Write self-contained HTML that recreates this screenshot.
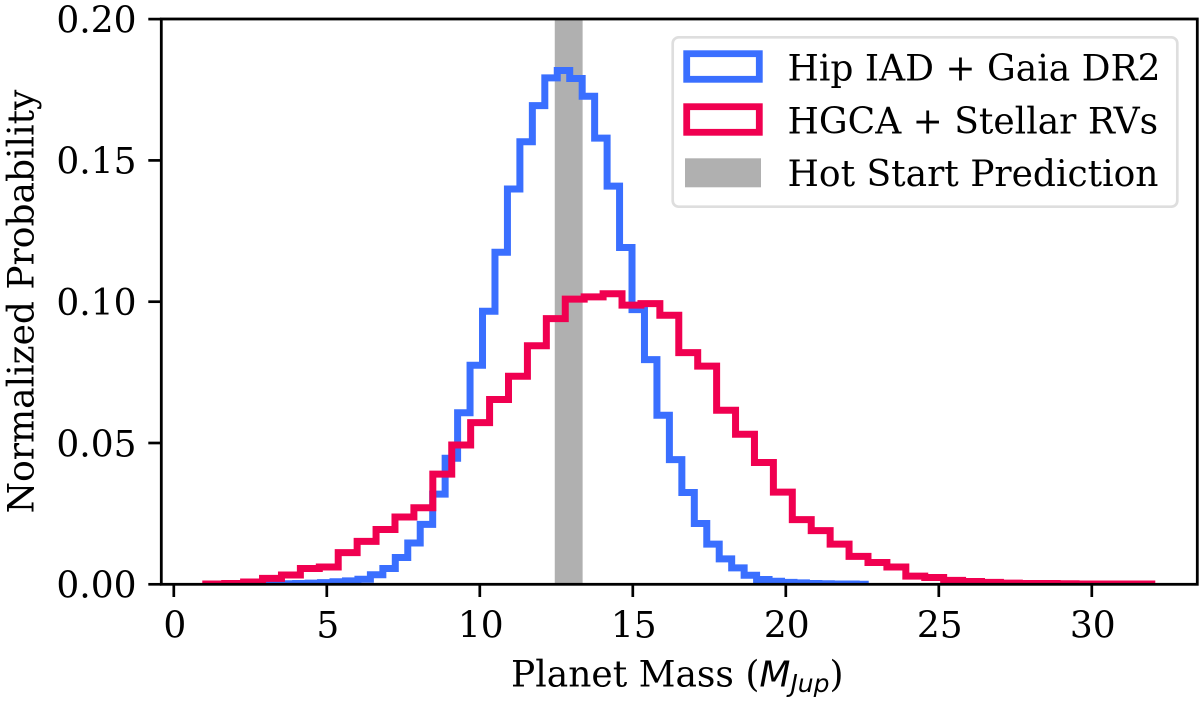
<!DOCTYPE html>
<html>
<head>
<meta charset="utf-8">
<style>
html,body{margin:0;padding:0;background:#fff;}
svg{display:block;}
text{font-family:"DejaVu Serif","Liberation Serif",serif;fill:#000;font-size:36px;}
.math{font-family:"DejaVu Sans","Liberation Sans",sans-serif;font-style:italic;}
</style>
</head>
<body>
<svg id="chart" width="1200" height="703" viewBox="0 0 1200 703" xmlns="http://www.w3.org/2000/svg">
<defs><clipPath id="plot-clip"><rect x="161.3" y="19" width="1036" height="565.3"/></clipPath></defs>
<rect x="0" y="0" width="1200" height="703" fill="#fff"/>
<g id="marks" clip-path="url(#plot-clip)"></g>
<g id="axes"></g>
<text x="511" y="686.7">Planet Mass (<tspan class="math">M</tspan><tspan class="math" font-size="25px" dy="5.5">Jup</tspan><tspan dy="-5.5">)</tspan></text>
<text transform="translate(33.5,301.5) rotate(-90)" text-anchor="middle">Normalized Probability</text>
<g>
<rect x="672.7" y="37.3" width="504.6" height="169.4" rx="6" fill="#fff" fill-opacity="0.9" stroke="#dedede" stroke-width="2.7"/>
<rect x="686.7" y="53.7" width="72.6" height="25.6" fill="none" stroke="#3a6fff" stroke-width="6.8"/>
<text x="787.5" y="80.7">Hip IAD + Gaia DR2</text>
<rect x="686.7" y="106.7" width="72.6" height="25.6" fill="none" stroke="#f00050" stroke-width="6.8"/>
<text x="787.5" y="133.3">HGCA + Stellar RVs</text>
<rect x="685" y="158.3" width="76" height="29" fill="#b0b0b0"/>
<text x="787.5" y="186">Hot Start Prediction</text>
</g>
</svg>
<script>
const blueRange = [2.353, 22.71];
const blueValues = [0,0,.0001,.0002,.0003,.0004,.0006,.0009,.0012,.0018,.0034,.0056,.0095,.0146,.0212,.0319,.0446,.0607,.0775,.0966,.1175,.1399,.1566,.1694,.1792,.1818,.179,.1727,.1579,.1409,.1192,.0972,.0795,.0598,.0441,.0325,.0215,.0142,.009,.0058,.0032,.0017,.0011,.0007,.0005,.0003,.0002,.0001,.0001,0];
const redRange = [1.045, 31.96];
const redValues = [.0001,.0003,.0008,.0021,.0033,.0056,.0061,.0112,.0152,.0194,.0238,.0271,.039,.0493,.0572,.0654,.0736,.0844,.094,.1009,.1017,.1028,.0988,.0993,.0952,.082,.0772,.0616,.0531,.0431,.0326,.0229,.019,.0142,.0099,.0077,.0061,.0029,.0024,.0014,.001,.0007,.0004,.0003,.0003,.0002,.0001,.0001,.0001,.0001];
const hotStartRange = [12.45, 13.36];
const xTicks = [0,5,10,15,20,25,30];
const yTicks = [0,0.05,0.10,0.15,0.20];

const SVG_NS = 'http://www.w3.org/2000/svg';
function xScale(m){ return 173.8 + 30.6 * m; }
function yScale(v){ return 584.3 - 2826 * v; }
const marks = document.getElementById('marks');
const axes = document.getElementById('axes');

function stepPath(range, values){
  const w = (range[1] - range[0]) / values.length;
  let d = 'M' + xScale(range[0]).toFixed(2) + ' ' + yScale(0).toFixed(2);
  values.forEach(function(v, i){
    d += 'V' + yScale(v).toFixed(2) + 'H' + xScale(range[0] + (i + 1) * w).toFixed(2);
  });
  d += 'V' + yScale(0).toFixed(2);
  return d;
}

const band = document.createElementNS(SVG_NS, 'rect');


band.setAttribute('x', xScale(hotStartRange[0]));
band.setAttribute('y', yScale(0.2));
band.setAttribute('width', xScale(hotStartRange[1]) - xScale(hotStartRange[0]));
band.setAttribute('height', yScale(0) - yScale(0.2));
band.setAttribute('fill', '#b0b0b0');
marks.appendChild(band);

const bluePath = document.createElementNS(SVG_NS, 'path');


bluePath.setAttribute('d', stepPath(blueRange, blueValues));
bluePath.setAttribute('fill', 'none');
bluePath.setAttribute('stroke', '#3a6fff');
bluePath.setAttribute('stroke-width', '7');
marks.appendChild(bluePath);

const redPath = document.createElementNS(SVG_NS, 'path');


redPath.setAttribute('d', stepPath(redRange, redValues));
redPath.setAttribute('fill', 'none');
redPath.setAttribute('stroke', '#f00050');
redPath.setAttribute('stroke-width', '7');
marks.appendChild(redPath);

const frame = document.createElementNS(SVG_NS, 'rect');


frame.setAttribute('x', '161.3');
frame.setAttribute('y', '19');
frame.setAttribute('width', '1036');
frame.setAttribute('height', '565.3');
frame.setAttribute('fill', 'none');
frame.setAttribute('stroke', '#000');
frame.setAttribute('stroke-width', '2.8');
axes.appendChild(frame);

xTicks.forEach(function(t){
  const tick = document.createElementNS(SVG_NS, 'line');
  
  
  tick.setAttribute('x1', xScale(t));
  tick.setAttribute('x2', xScale(t));
  tick.setAttribute('y1', 584);
  tick.setAttribute('y2', 597);
  tick.setAttribute('stroke', '#000');
  tick.setAttribute('stroke-width', '2.7');
  axes.appendChild(tick);
  const label = document.createElementNS(SVG_NS, 'text');
  
  
  label.setAttribute('x', xScale(t) + 1);
  label.setAttribute('y', 637.5);
  label.setAttribute('text-anchor', 'middle');
  label.textContent = String(t);
  axes.appendChild(label);
});

yTicks.forEach(function(t){
  const tick = document.createElementNS(SVG_NS, 'line');
  
  
  tick.setAttribute('x1', 148.3);
  tick.setAttribute('x2', 161.3);
  tick.setAttribute('y1', yScale(t));
  tick.setAttribute('y2', yScale(t));
  tick.setAttribute('stroke', '#000');
  tick.setAttribute('stroke-width', '2.7');
  axes.appendChild(tick);
  const label = document.createElementNS(SVG_NS, 'text');
  
  
  label.setAttribute('x', 136.5);
  label.setAttribute('y', yScale(t) + 13.3);
  label.setAttribute('text-anchor', 'end');
  label.textContent = t.toFixed(2);
  axes.appendChild(label);
});
</script>
</body>
</html>
